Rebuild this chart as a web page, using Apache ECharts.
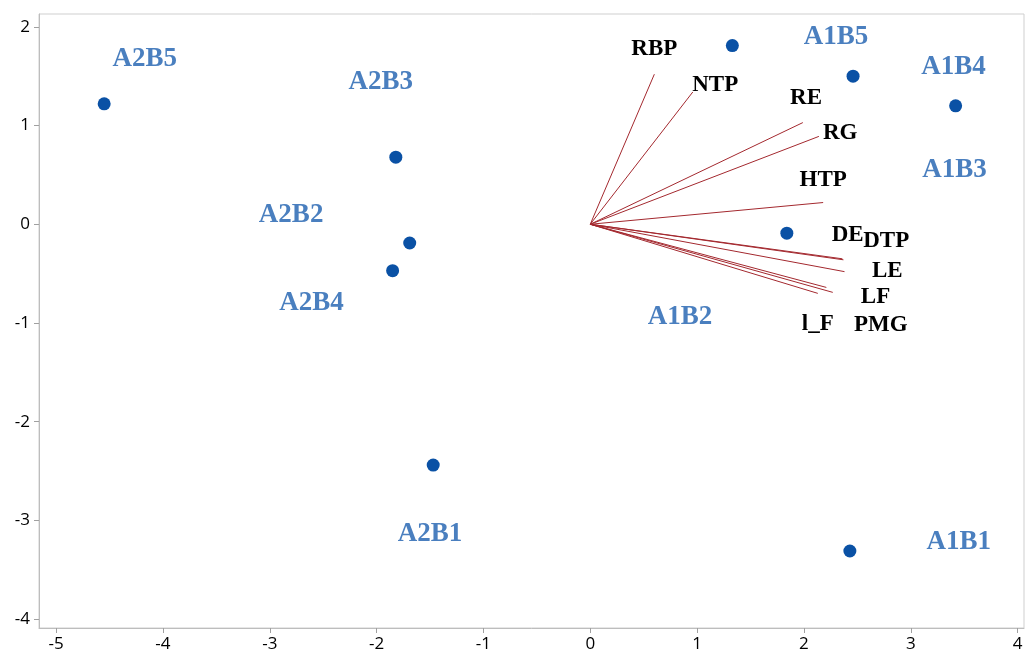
<!DOCTYPE html>
<html><head><meta charset="utf-8">
<script src="https://cdn.jsdelivr.net/npm/echarts@6/dist/echarts.min.js"></script>
<style>html,body{margin:0;padding:0;background:#fff}#c{width:1027px;height:660px}</style>
</head><body><div id="c"></div>
<script>
// Observations (scores)
const obsNames = ['A2B5','A2B3','A2B2','A2B4','A2B1','A1B5','A1B4','A1B3','A1B2','A1B1'];
const obsX = [-4.55,-1.82,-1.69,-1.85,-1.47,1.33,2.46,3.42,1.84,2.43];
const obsY = [1.22,0.68,-0.19,-0.47,-2.44,1.81,1.50,1.20,-0.09,-3.31];
// Observation label anchor points (data units)
const obsLabelX = [-4.17,-1.96,-2.80,-2.61,-1.50,2.30,3.40,3.41,0.84,3.45];
const obsLabelY = [1.67,1.44,0.09,-0.80,-3.14,1.90,1.59,0.55,-0.94,-3.22];
// Variable vectors (loadings)
const varNames = ['RBP','NTP','RE','RG','HTP','DE','DTP','LE','LF','PMG','l_F'];
const varX = [0.60,0.96,1.99,2.14,2.18,2.37,2.36,2.38,2.27,2.21,2.13];
const varY = [1.52,1.34,1.03,0.89,0.22,-0.36,-0.35,-0.48,-0.69,-0.64,-0.70];
const varLabelX = [0.60,1.17,2.02,2.34,2.18,2.41,2.77,2.78,2.67,2.72,2.13];
const varLabelY = [1.77,1.41,1.28,0.92,0.45,-0.11,-0.17,-0.47,-0.74,-1.02,-1.01];
// Ticks
const xTicks = [-5,-4,-3,-2,-1,0,1,2,3,4];
const yTicks = [-4,-3,-2,-1,0,1,2];

const labelFont = {color:'#000',fontFamily:'Open Sans',fontSize:17};
const chart = echarts.init(document.getElementById('c'));
chart.setOption({
  animation:false,
  grid:{left:39,right:3,top:14,bottom:32,show:true,borderColor:'#cfcfcf',borderWidth:1},
  xAxis:{type:'value',min:-5.16,max:4.06,
    axisLine:{show:true,onZero:false,lineStyle:{color:'#bdbdbd',width:1}},
    splitLine:{show:false},
    axisTick:{show:true,length:5,customValues:xTicks,lineStyle:{color:'#a0a0a0'}},
    axisLabel:Object.assign({},labelFont,{customValues:xTicks,margin:8})},
  yAxis:{type:'value',min:-4.09,max:2.13,
    axisLine:{show:true,onZero:false,lineStyle:{color:'#bdbdbd',width:1}},
    splitLine:{show:false},
    axisTick:{show:true,length:5,customValues:yTicks,lineStyle:{color:'#a0a0a0'}},
    axisLabel:Object.assign({},labelFont,{customValues:yTicks,margin:9})},
  series:[
    {type:'lines',coordinateSystem:'cartesian2d',silent:true,
     lineStyle:{color:'#a3282e',width:1,opacity:1},
     data:varNames.map((n,i)=>({coords:[[0,0],[varX[i],varY[i]]]}))},
    {type:'scatter',symbolSize:13,itemStyle:{color:'#0a51a5',opacity:1},silent:true,
     data:obsNames.map((n,i)=>({name:n,value:[obsX[i],obsY[i]]}))},
    {type:'scatter',symbolSize:0,silent:true,itemStyle:{opacity:1},
     label:{show:true,position:'inside',formatter:'{b}',color:'#4a7fbf',fontFamily:'Liberation Serif',fontWeight:'bold',fontSize:27},
     data:obsNames.map((n,i)=>({name:n,value:[obsLabelX[i],obsLabelY[i]]}))},
    {type:'scatter',symbolSize:0,silent:true,itemStyle:{opacity:1},
     label:{show:true,position:'inside',formatter:'{b}',color:'#000',fontFamily:'Liberation Serif',fontWeight:'bold',fontSize:23},
     data:varNames.map((n,i)=>({name:n,value:[varLabelX[i],varLabelY[i]]}))}
  ]
});
</script></body></html>
